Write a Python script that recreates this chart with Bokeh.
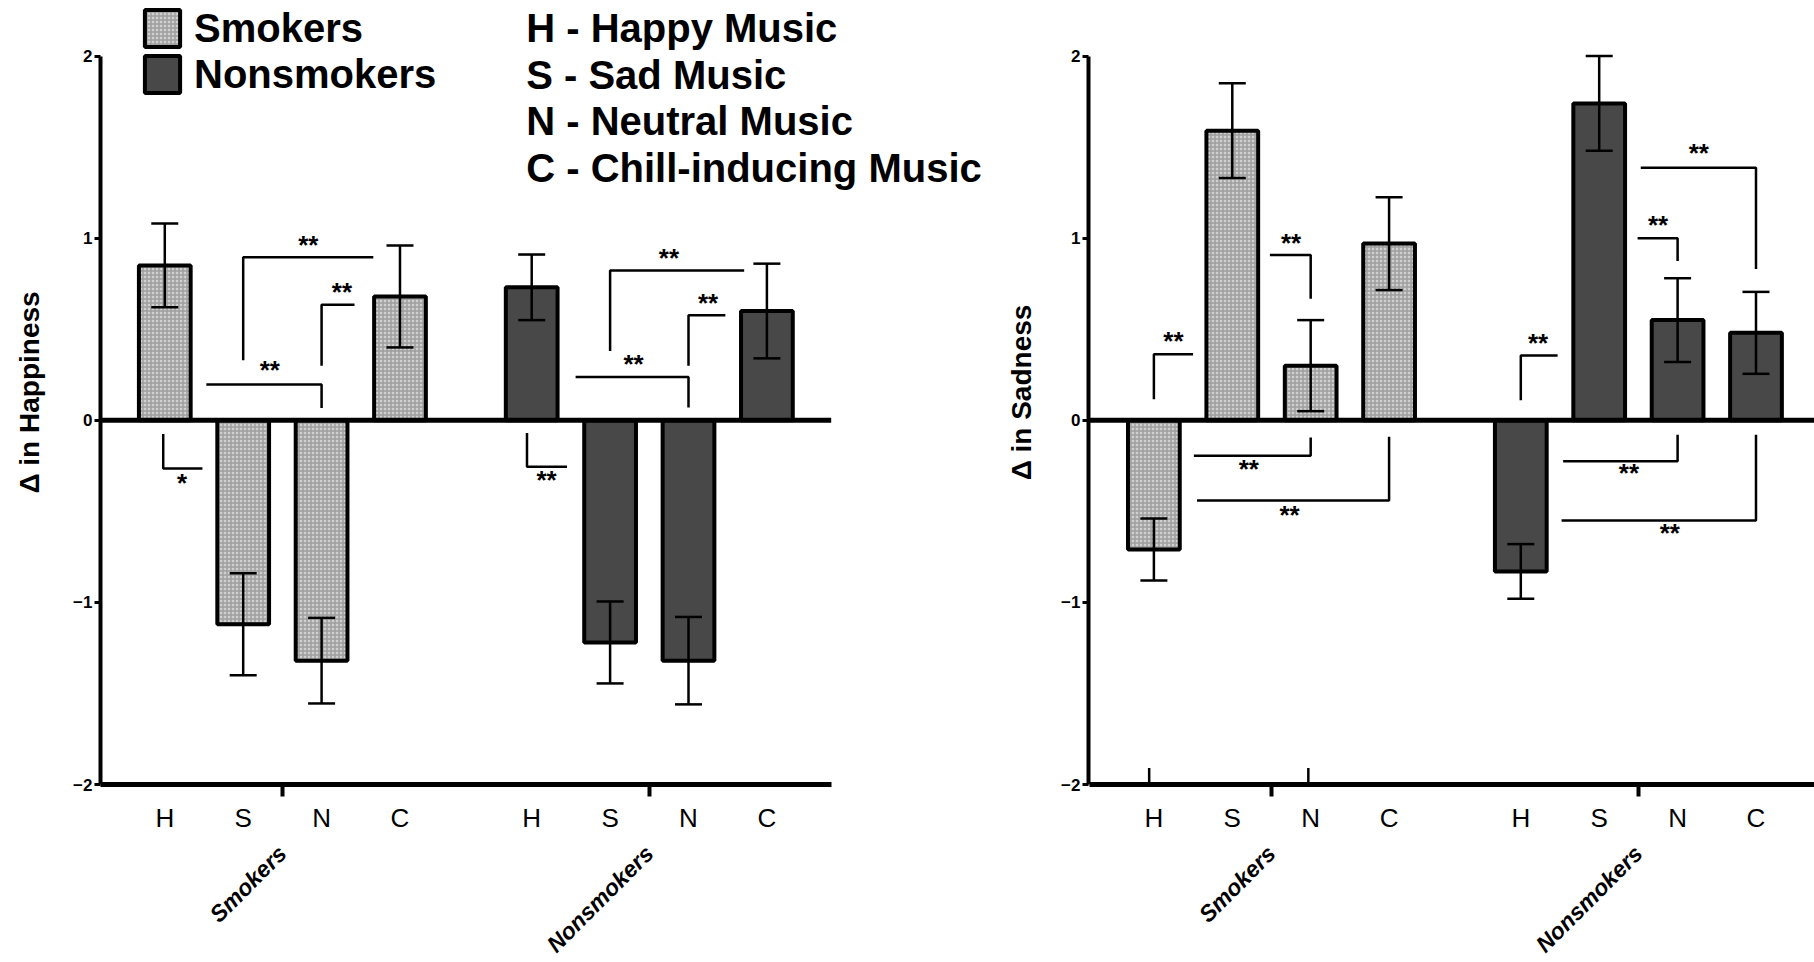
import math
from bokeh.plotting import figure
from bokeh.layouts import row
from bokeh.models import (ColumnDataSource, Range1d, FixedTicker, LinearAxis,
                          Whisker, TeeHead, Legend, LegendItem)
from bokeh.core.properties import value
from bokeh.embed import file_html
from bokeh.resources import INLINE

# ---- data -------------------------------------------------------------
groups = ["Smokers", "Nonsmokers"]
music = ["H", "S", "N", "C"]
music_names = ["Happy Music", "Sad Music", "Neutral Music", "Chill-inducing Music"]

# change in happiness (mean, SEM) for H, S, N, C
happy_smokers = [0.85, -1.12, -1.32, 0.68]
happy_smokers_err = [0.23, 0.28, 0.235, 0.28]
happy_nonsmokers = [0.73, -1.22, -1.32, 0.60]
happy_nonsmokers_err = [0.18, 0.225, 0.24, 0.26]

# change in sadness (mean, SEM) for H, S, N, C
sad_smokers = [-0.71, 1.59, 0.30, 0.97]
sad_smokers_err = [0.17, 0.26, 0.25, 0.255]
sad_nonsmokers = [-0.83, 1.74, 0.55, 0.48]
sad_nonsmokers_err = [0.15, 0.26, 0.23, 0.225]

# significance brackets: (group index, polyline x, polyline y, label, label x, label y)
# x is measured in bar slots from the group's first bar
happy_brackets = [
    (0, [1.0, 1.0, 2.66], [0.33, 0.895, 0.895], "**", 1.83, 0.965),
    (0, [2.0, 2.0, 2.42], [0.30, 0.635, 0.635], "**", 2.26, 0.705),
    (0, [0.53, 2.0, 2.0], [0.197, 0.197, 0.068], "**", 1.34, 0.275),
    (0, [-0.02, -0.02, 0.48], [-0.075, -0.265, -0.265], "*", 0.22, -0.345),
    (1, [1.0, 1.0, 2.71], [0.38, 0.822, 0.822], "**", 1.75, 0.89),
    (1, [2.0, 2.0, 2.47], [0.30, 0.577, 0.577], "**", 2.25, 0.645),
    (1, [0.56, 2.0, 2.0], [0.238, 0.238, 0.07], "**", 1.30, 0.31),
    (1, [-0.06, -0.06, 0.45], [-0.07, -0.255, -0.255], "**", 0.19, -0.33),
]
sad_brackets = [
    (0, [0.0, 0.0, 0.50], [0.115, 0.363, 0.363], "**", 0.25, 0.435),
    (0, [1.48, 2.0, 2.0], [0.907, 0.907, 0.667], "**", 1.75, 0.975),
    (0, [0.51, 2.0, 2.0], [-0.195, -0.195, -0.095], "**", 1.21, -0.27),
    (0, [0.55, 3.0, 3.0], [-0.44, -0.44, -0.09], "**", 1.73, -0.52),
    (0, [-0.06, -0.06], [-2.0, -1.91], "", 0.0, 0.0),
    (0, [1.97, 1.97], [-2.0, -1.91], "", 0.0, 0.0),
    (1, [0.0, 0.0, 0.47], [0.11, 0.355, 0.355], "**", 0.22, 0.425),
    (1, [1.49, 2.0, 2.0], [1.0, 1.0, 0.875], "**", 1.75, 1.07),
    (1, [1.53, 3.0, 3.0], [1.386, 1.386, 0.83], "**", 2.27, 1.47),
    (1, [0.54, 2.0, 2.0], [-0.225, -0.225, -0.08], "**", 1.38, -0.29),
    (1, [0.52, 3.0, 3.0], [-0.55, -0.55, -0.08], "**", 1.90, -0.62),
]

# ---- layout constants ---------------------------------------------------
GROUP_STEP = 4.68          # slot offset of the second group
PX_PER_SLOT = 78.4
FRAME_H = 784
Y_LO, Y_HI = -2.0, 2.305
FONT = "Liberation Sans"
SMOKER_FILL = "#d0d0d0"
NONSMOKER_FILL = "#484848"

xs = [g * GROUP_STEP + i for g in range(len(groups)) for i in range(len(music))]
group_centers = [g * GROUP_STEP + 1.5 for g in range(len(groups))]
axis_span = (-0.82, 3 + GROUP_STEP + 0.82)


def make_panel(ylabel, smokers, smokers_err, nonsmokers, nonsmokers_err,
               brackets, frame_w, x_start, border_left, with_legend):
    p = figure(frame_width=frame_w, frame_height=FRAME_H,
               x_range=Range1d(x_start, x_start + frame_w / PX_PER_SLOT),
               y_range=Range1d(Y_LO, Y_HI),
               output_backend="svg", toolbar_location=None,
               min_border_left=border_left, min_border_right=0,
               min_border_top=0, min_border_bottom=178,
               x_axis_location=None, y_axis_location=None)
    p.grid.visible = False
    p.outline_line_color = None
    p.background_fill_color = "white"

    # y axis
    yax = LinearAxis(ticker=FixedTicker(ticks=[-2, -1, 0, 1, 2]), bounds=(-2, 2))
    yax.axis_line_width = 4
    yax.major_tick_line_width = 3
    yax.major_tick_out = 6
    yax.major_tick_in = 0
    yax.minor_tick_line_color = None
    yax.major_label_text_font = FONT
    yax.major_label_text_font_style = "bold"
    yax.major_label_text_font_size = "17px"
    yax.major_label_text_color = "black"
    yax.major_label_standoff = 2
    yax.axis_label = ylabel
    yax.axis_label_text_font = FONT
    yax.axis_label_text_font_style = "bold"
    yax.axis_label_text_font_size = "28px"
    yax.axis_label_text_color = "black"
    yax.axis_label_standoff = 25 if with_legend else 21
    p.add_layout(yax, "left")

    # x axis: music letters, group ticks as minor ticks
    labels = {x: m for x, m in zip(xs, music * len(groups))}
    xax = LinearAxis(ticker=FixedTicker(ticks=xs, minor_ticks=group_centers),
                     bounds=axis_span)
    xax.axis_line_width = 5
    xax.major_tick_line_color = None
    xax.major_tick_out = 0
    xax.major_tick_in = 0
    xax.minor_tick_line_width = 4
    xax.minor_tick_out = 12
    xax.minor_tick_in = 0
    xax.major_label_overrides = labels
    xax.major_label_text_font = FONT
    xax.major_label_text_font_size = "26px"
    xax.major_label_text_color = "black"
    xax.major_label_standoff = 6
    p.add_layout(xax, "below")

    gax = LinearAxis(ticker=FixedTicker(ticks=group_centers, minor_ticks=[]))
    gax.axis_line_color = None
    gax.major_tick_line_color = None
    gax.minor_tick_line_color = None
    gax.major_label_overrides = {c: g for c, g in zip(group_centers, groups)}
    gax.major_label_orientation = math.pi / 4
    gax.major_label_text_font = FONT
    gax.major_label_text_font_style = "bold italic"
    gax.major_label_text_font_size = "23px"
    gax.major_label_text_color = "black"
    gax.major_label_standoff = 8
    p.add_layout(gax, "below")

    # bars
    src_s = ColumnDataSource(dict(x=xs[:4], top=smokers,
                                  upper=[v + e for v, e in zip(smokers, smokers_err)],
                                  lower=[v - e for v, e in zip(smokers, smokers_err)]))
    src_n = ColumnDataSource(dict(x=xs[4:], top=nonsmokers,
                                  upper=[v + e for v, e in zip(nonsmokers, nonsmokers_err)],
                                  lower=[v - e for v, e in zip(nonsmokers, nonsmokers_err)]))
    r_s = p.vbar(x="x", top="top", bottom=0, width=0.66, source=src_s,
                 fill_color=SMOKER_FILL, line_color="black", line_width=4,
                 hatch_pattern="cross", hatch_color="#9e9e9e",
                 hatch_scale=4, hatch_weight=1.5)
    r_n = p.vbar(x="x", top="top", bottom=0, width=0.66, source=src_n,
                 fill_color=NONSMOKER_FILL, line_color="black", line_width=4)

    # zero line
    p.segment(x0=[axis_span[0]], y0=[0], x1=[axis_span[1]], y1=[0],
              line_color="black", line_width=5)

    for src in (src_s, src_n):
        w = Whisker(base="x", upper="upper", lower="lower", source=src,
                    line_width=2.5, line_color="black", level="annotation",
                    upper_head=TeeHead(size=27, line_width=2.5),
                    lower_head=TeeHead(size=27, line_width=2.5))
        p.add_layout(w)

    # significance brackets
    bx, by, tx, ty, tt = [], [], [], [], []
    for g, px, py, lab, lx, ly in brackets:
        off = g * GROUP_STEP
        bx.append([v + off for v in px])
        by.append(py)
        if lab:
            tx.append(lx + off)
            ty.append(ly)
            tt.append(lab)
    p.multi_line(xs=bx, ys=by, line_color="black", line_width=2.5)
    p.text(x=tx, y=ty, text=tt, text_align="center", text_baseline="middle",
           text_font=value(FONT), text_font_style="bold", text_font_size="26px",
           text_color="black")

    if with_legend:
        legend = Legend(items=[LegendItem(label=groups[0], renderers=[r_s]),
                               LegendItem(label=groups[1], renderers=[r_n])],
                        location=(40, FRAME_H - 97), orientation="vertical",
                        glyph_width=44, glyph_height=46, label_standoff=10,
                        spacing=0, padding=0, margin=0,
                        label_text_font=FONT, label_text_font_style="bold",
                        label_text_font_size="40px", label_text_color="black",
                        border_line_color=None, background_fill_alpha=0)
        p.add_layout(legend)

        key_lines = [f"{m} - {n}" for m, n in zip(music, music_names)]
        key_y = [2.153 - i * 0.256 for i in range(len(key_lines))]
        p.text(x=[4.61] * len(key_lines), y=key_y, text=key_lines,
               text_align="left", text_baseline="middle",
               text_font=value(FONT), text_font_style="bold",
               text_font_size="40px", text_color="black")
    return p


left = make_panel("\u0394 in Happiness", happy_smokers, happy_smokers_err,
                  happy_nonsmokers, happy_nonsmokers_err, happy_brackets,
                  frame_w=900, x_start=-0.82, border_left=100, with_legend=True)
right = make_panel("\u0394 in Sadness", sad_smokers, sad_smokers_err,
                   sad_nonsmokers, sad_nonsmokers_err, sad_brackets,
                   frame_w=726, x_start=-0.834, border_left=88, with_legend=False)

layout = row(left, right, spacing=0)
open("out.html", "w").write(file_html(layout, INLINE))
